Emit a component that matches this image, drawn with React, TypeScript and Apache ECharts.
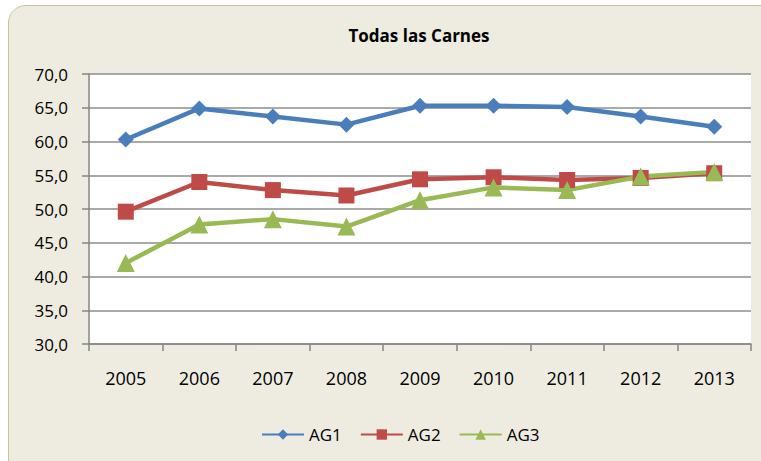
import React, { useEffect, useRef } from "react";
import * as echarts from "echarts";

const years = ["2005", "2006", "2007", "2008", "2009", "2010", "2011", "2012", "2013"];
const ag1 = [60.3, 64.9, 63.7, 62.5, 65.3, 65.3, 65.1, 63.7, 62.2];
const ag2 = [49.6, 54.0, 52.8, 52.0, 54.4, 54.7, 54.3, 54.6, 55.3];
const ag3 = [42.0, 47.7, 48.5, 47.4, 51.3, 53.2, 52.8, 54.8, 55.5];

const FONT = "'Open Sans', 'Liberation Sans', sans-serif";

export default function App() {
  const ref = useRef<HTMLDivElement>(null);
  useEffect(() => {
    if (!ref.current) return;
    const chart = echarts.init(ref.current, undefined, { renderer: "svg" });
    const mk = (name: string, data: number[], color: string, symbol: string, size: number) => ({
      name,
      type: "line",
      data,
      symbol,
      symbolSize: size,
      lineStyle: { color, width: 4.5 },
      itemStyle: { color },
      emphasis: { disabled: true },
    });
    chart.setOption({
      animation: false,
      backgroundColor: "transparent",
      title: {
        text: "Todas las Carnes",
        left: 414,
        textAlign: "center",
        top: 22,
        textStyle: { fontFamily: FONT, fontSize: 17, fontWeight: "bold", color: "#000" },
      },
      legend: {
        top: 421,
        left: 256,
        itemWidth: 42,
        itemHeight: 13,
        itemGap: 18,
        textStyle: { fontFamily: FONT, fontSize: 17, color: "#000" },
        data: ["AG1", "AG2", "AG3"],
      },
      grid: {
        left: 89,
        top: 74,
        right: 10,
        bottom: 117,
        show: true,
        backgroundColor: "#ffffff",
        borderWidth: 0,
      },
      xAxis: {
        type: "category",
        data: years,
        boundaryGap: true,
        axisLine: { lineStyle: { color: "#868686", width: 1.5 } },
        axisTick: { show: true, length: 7, lineStyle: { color: "#868686", width: 1.5 } },
        axisLabel: { margin: 25, fontFamily: FONT, fontSize: 18, color: "#000" },
      },
      yAxis: {
        type: "value",
        min: 30,
        max: 70,
        interval: 5,
        axisLine: { show: true, lineStyle: { color: "#868686", width: 1.5 } },
        axisTick: { show: true, length: 7, lineStyle: { color: "#868686", width: 1.5 } },
        splitLine: { lineStyle: { color: "#8c8c8c", width: 1.5 } },
        axisLabel: {
          margin: 21,
          fontFamily: FONT,
          fontSize: 17,
          color: "#000",
          formatter: (v: number) => v.toFixed(1).replace(".", ","),
        },
      },
      series: [
        mk("AG1", ag1, "#4A7EBB", "diamond", 16),
        mk("AG2", ag2, "#BE4B48", "rect", 16),
        mk("AG3", ag3, "#98B954", "triangle", 18),
      ],
    });
    return () => chart.dispose();
  }, []);
  return (
    <div style={{ position: "fixed", left: 0, top: 0, width: 761, height: 461, background: "#fff", overflow: "hidden" }}>
      <div
        style={{
          position: "absolute",
          left: 8,
          top: 5,
          width: 780,
          height: 480,
          background: "#EEECE1",
          border: "1.5px solid #C9C29E",
          borderRadius: 18,
          boxSizing: "border-box",
        }}
      />
      <div ref={ref} style={{ position: "absolute", left: 0, top: 0, width: 761, height: 461 }} />
    </div>
  );
}
